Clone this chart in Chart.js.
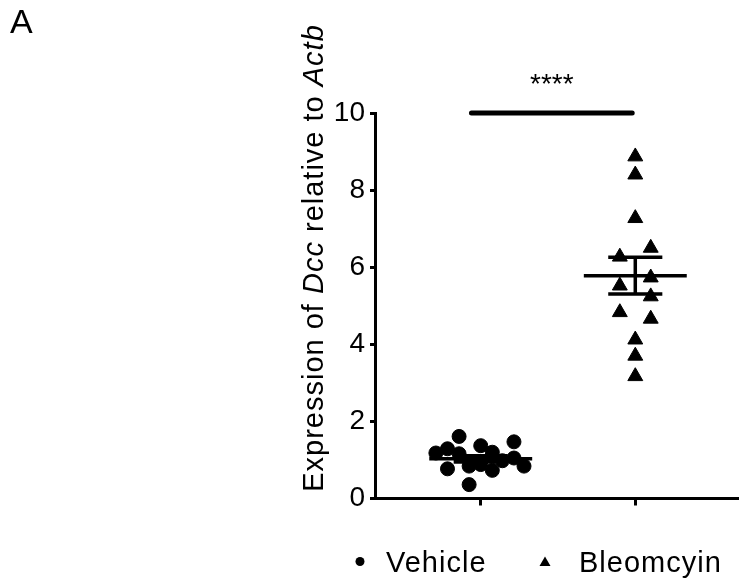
<!DOCTYPE html>
<html>
<head>
<meta charset="utf-8">
<script src="https://cdn.jsdelivr.net/npm/chart.js@4.4.0/dist/chart.umd.min.js"></script>
<style>
  html, body { margin: 0; padding: 0; background: #fff; }
</style>
</head>
<body>
<canvas id="dccChart" width="739" height="583"></canvas>
<script>
// groups on the x axis (1 = Vehicle, 2 = Bleomcyin)
const groups = ["Vehicle", "Bleomcyin"];

// individual animals
const vehicleValues = [1.61, 1.37, 1.47, 1.18, 1.29, 1.16, 1.20, 1.05, 0.77, 0.84, 0.88, 0.73, 0.98, 0.84, 0.36];
const vehicleJitter = [-0.14, 0, 0.215, -0.29, -0.215, -0.14, 0.075, 0.215, -0.215, -0.075, 0, 0.075, 0.14, 0.28, -0.075];

const bleoValues = [8.87, 8.40, 7.27, 6.50, 6.27, 5.73, 5.52, 5.24, 4.83, 4.66, 4.12, 3.70, 3.17];
const bleoJitter = [0, 0, 0, 0.1, -0.1, 0.1, -0.1, 0.1, -0.1, 0.1, 0, 0, 0];

// mean +/- SEM as drawn
const groupMeans = [1.03, 5.78];
const groupSem = [0.08, 0.475];

const yTicks = [0, 2, 4, 6, 8, 10];

// significance bracket
const sigLabel = "****";
const sigSpan = [0.94, 1.98];
const sigY = 10;

const FONT = '"Liberation Sans", Arial, Helvetica, sans-serif';

function summarySegments() {
    const pts = [];
    groupMeans.forEach((m, i) => {
        const c = i + 1;
        const s = groupSem[i];
        pts.push({x: c - 0.333, y: m}, {x: c + 0.333, y: m}, {x: c, y: null});
        pts.push({x: c - 0.175, y: m + s}, {x: c + 0.175, y: m + s}, {x: c, y: null});
        pts.push({x: c - 0.175, y: m - s}, {x: c + 0.175, y: m - s}, {x: c, y: null});
        pts.push({x: c, y: m - s}, {x: c, y: m + s}, {x: c, y: null});
    });
    return pts;
}

const annotate = {
    id: "annotate",
    afterDraw(chart) {
        const {ctx, scales: {x, y}} = chart;
        ctx.save();
        ctx.fillStyle = "#000";
        ctx.textAlign = "left";
        ctx.textBaseline = "alphabetic";

        // panel letter
        ctx.font = "34px " + FONT;
        ctx.fillText("A", 10, 33);

        // stars over the bracket
        ctx.font = "28px " + FONT;
        ctx.textAlign = "center";
        ctx.fillText(sigLabel, x.getPixelForValue((sigSpan[0] + sigSpan[1]) / 2), y.getPixelForValue(sigY) - 20);

        // y title with italic gene names
        const parts = [["Expression of ", false], ["Dcc", true], [" relative to ", false], ["Actb", true]];
        ctx.textAlign = "left";
        ctx.letterSpacing = "1px";
        let total = 0;
        parts.forEach(p => {
            ctx.font = (p[1] ? "italic " : "") + "29px " + FONT;
            total += ctx.measureText(p[0]).width;
        });
        ctx.translate(323, 258);
        ctx.rotate(-Math.PI / 2);
        let cx = -total / 2;
        parts.forEach(p => {
            ctx.font = (p[1] ? "italic " : "") + "29px " + FONT;
            ctx.fillText(p[0], cx, 0);
            cx += ctx.measureText(p[0]).width;
        });
        ctx.restore();

        // legend
        ctx.save();
        ctx.fillStyle = "#000";
        ctx.font = "29px " + FONT;
        ctx.letterSpacing = "1px";
        ctx.textBaseline = "alphabetic";
        ctx.beginPath();
        ctx.arc(360, 561.5, 4.5, 0, Math.PI * 2);
        ctx.fill();
        ctx.fillText(groups[0], 386, 572);
        ctx.beginPath();
        ctx.moveTo(545, 556.5);
        ctx.lineTo(550.5, 566);
        ctx.lineTo(539.5, 566);
        ctx.closePath();
        ctx.fill();
        ctx.fillText(groups[1], 579, 572);
        ctx.restore();
    }
};

const tickGrid = (len) => ({
    drawOnChartArea: false,
    drawTicks: true,
    tickLength: len,
    tickWidth: 3,
    color: "#000"
});

new Chart(document.getElementById("dccChart"), {
    type: "scatter",
    data: {
        datasets: [
            {
                label: groups[0],
                data: vehicleValues.map((v, i) => ({x: 1 + vehicleJitter[i], y: v})),
                pointStyle: "circle",
                pointRadius: 7,
                backgroundColor: "#000",
                borderColor: "#000",
                borderWidth: 1,
                clip: false
            },
            {
                label: groups[1],
                data: bleoValues.map((v, i) => ({x: 2 + bleoJitter[i], y: v})),
                pointStyle: "triangle",
                pointRadius: 8.6,
                backgroundColor: "#000",
                borderColor: "#000",
                borderWidth: 1,
                clip: false
            },
            {
                type: "line",
                label: "mean",
                data: summarySegments(),
                borderColor: "#000",
                borderWidth: 3.5,
                pointRadius: 0,
                spanGaps: false,
                clip: false
            },
            {
                type: "line",
                label: "sig",
                data: [{x: sigSpan[0], y: sigY}, {x: sigSpan[1], y: sigY}],
                borderColor: "#000",
                borderWidth: 5,
                borderCapStyle: "round",
                pointRadius: 0,
                clip: false
            }
        ]
    },
    options: {
        responsive: false,
        animation: false,
        devicePixelRatio: 1,
        layout: {autoPadding: false, padding: {top: 113, left: 0, right: 0, bottom: 0}},
        plugins: {
            legend: {display: false},
            tooltip: {enabled: false}
        },
        scales: {
            x: {
                type: "linear",
                min: 0.316,
                max: 2.671,
                afterBuildTicks: s => { s.ticks = [1, 2].map(v => ({value: v})); },
                afterFit: s => { s.height = 84.5; },
                ticks: {display: false},
                grid: tickGrid(7),
                border: {display: true, color: "#000", width: 3}
            },
            y: {
                min: 0,
                max: 10,
                afterBuildTicks: s => { s.ticks = yTicks.map(v => ({value: v})); },
                afterFit: s => { s.width = 375; },
                ticks: {
                    color: "#000",
                    padding: 5,
                    font: {family: FONT, size: 28}
                },
                grid: tickGrid(5),
                border: {display: true, color: "#000", width: 3}
            }
        }
    },
    plugins: [annotate]
});
</script>
</body>
</html>
